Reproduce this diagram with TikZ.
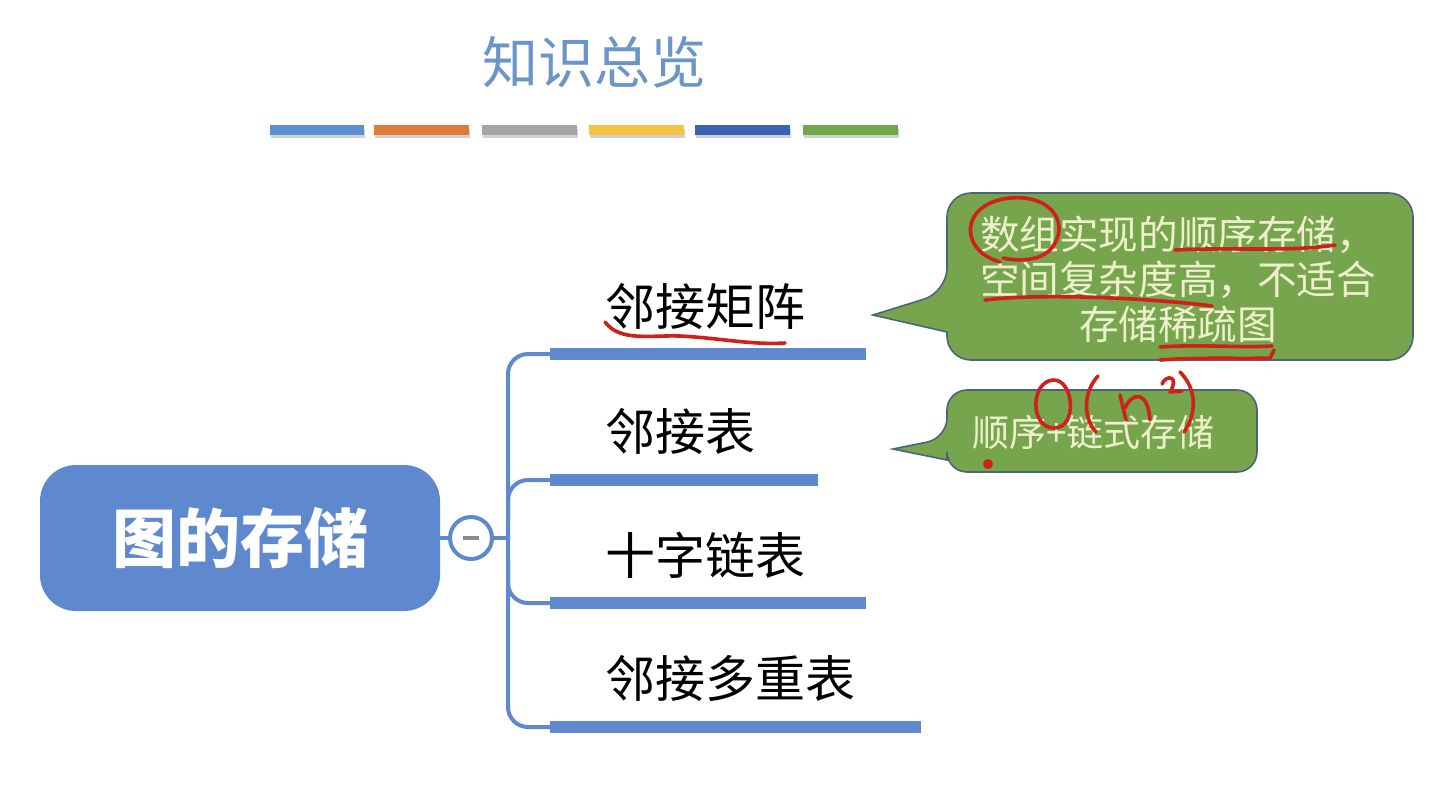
\documentclass[tikz,border=0pt]{standalone}
\usepackage{fontspec}
\setmainfont{Noto Sans CJK SC}
\usetikzlibrary{calc}
\definecolor{mblue}{HTML}{5F89CF}
\definecolor{ttl}{HTML}{6A95C9}
\definecolor{cgreen}{HTML}{76A54E}
\definecolor{cedge}{HTML}{4D6478}
\definecolor{ctext}{HTML}{EEF0CC}
\definecolor{pen}{HTML}{D0201A}
\definecolor{b1}{HTML}{5B8FD0}
\definecolor{b2}{HTML}{E07B39}
\definecolor{b3}{HTML}{A5A5A5}
\definecolor{b4}{HTML}{F5C242}
\definecolor{b5}{HTML}{3C62B4}
\definecolor{b6}{HTML}{6FA84A}
\tikzset{
  colbar/.style={fill=#1, draw=none},
  colshadow/.style={fill=black!18, draw=none},
  branchbar/.style={fill=mblue, draw=none, inner sep=0pt, minimum height=6pt, anchor=west},
  label/.style={anchor=west, inner sep=0pt, font=\fontsize{25pt}{27pt}\selectfont, text=black},
  tree/.style={draw=mblue, line width=2pt, rounded corners=10pt},
  callout/.style={fill=cgreen, draw=cedge, line width=0.8pt},
  ctxt/.style={text=ctext, align=center, inner sep=0pt},
  penline/.style={draw=pen, line width=1.8pt, line cap=round, line join=round},
}
\begin{document}
\begin{tikzpicture}[x=0.5pt, y=-0.5pt]
\useasboundingbox (0,0) rectangle (1444,800);
\fill[white] (0,0) rectangle (1444,800);

% title
\node[text=ttl, font=\fontsize{28pt}{30pt}\selectfont, inner sep=0pt] (title) at (594,62) {知识总览};

% colour bars
\foreach \xa/\xb/\c in {270/364/b1, 374/469/b2, 482/577/b3, 589/684/b4, 695/790/b5, 803/898/b6}{
  \fill[colshadow] (\xa+1,129) rectangle (\xb+1,138);
  \fill[colbar=\c] (\xa,125) rectangle (\xb,135);
}

% root
\node[fill=mblue, rounded corners=18pt, minimum width=200pt, minimum height=73pt, text=white,
      font=\fontsize{32pt}{34pt}\selectfont\bfseries, inner sep=0pt] (root) at (240,538) {图的存储};

% toggle circle
\node[circle, draw=mblue, line width=2pt, fill=white, minimum size=21pt, inner sep=0pt] (tog) at (471,538) {};
\draw[black!45, line width=1.6pt] ($(tog.center)+(-8,0)$) -- ($(tog.center)+(8,0)$);
\draw[mblue, line width=2pt] (root.east) -- (tog.west);

% branch bars
\node[branchbar, minimum width=158pt] (bar1) at (550,354) {};
\node[branchbar, minimum width=134pt] (bar2) at (550,480) {};
\node[branchbar, minimum width=158pt] (bar3) at (550,603) {};
\node[branchbar, minimum width=185.5pt] (bar4) at (550,727) {};

\coordinate (trunk) at (508,538);
\draw[mblue, line width=2pt] (tog.east) -- (trunk);
\draw[tree] (bar1.west) -- (508,354) -- (508,727) -- (bar4.west);
\draw[tree] (508,520) -- (508,480) -- (bar2.west);
\draw[tree] (508,560) -- (508,603) -- (bar3.west);

% labels
\node[label] (l1) at (605,307) {邻接矩阵};
\node[label] (l2) at (605,432) {邻接表};
\node[label] (l3) at (605,555) {十字链表};
\node[label] (l4) at (605,678) {邻接多重表};

% callout 1
\path[callout] (873,315) -- (947,332) [rounded corners=12pt] -- (947,360) -- (1413,360) -- (1413,193) -- (947,193) -- (947,292) [sharp corners] -- cycle;
\node[ctxt, font=\fontsize{19.8pt}{22.5pt}\selectfont] (c1) at (1178,279) {数组实现的顺序存储，\\空间复杂度高，不适合\\存储稀疏图};

% callout 2
\path[callout] (893,449) -- (947,460) [rounded corners=10pt] -- (947,472) -- (1257,472) -- (1257,390) -- (947,390) -- (947,438) [sharp corners] -- cycle;
\node[ctxt, anchor=west, font=\fontsize{18.5pt}{20pt}\selectfont] (c2) at (972,432) {顺序+链式存储};

% red pen annotations
\draw[penline] (1000,262) .. controls (958,250) and (960,203) .. (1010,198)
   .. controls (1052,194) and (1072,225) .. (1050,250) .. controls (1040,260) and (1020,262) .. (1003,258);
\draw[penline] (1175,250) .. controls (1230,247) and (1290,252) .. (1335,245);
\draw[penline] (985,300) .. controls (1040,293) and (1150,298) .. (1212,306);
\draw[penline] (1160,347) .. controls (1200,344) and (1240,348) .. (1272,346);
\draw[penline] (1160,360) .. controls (1200,357) and (1240,359) .. (1270,358) -- (1274,350);
\draw[penline] (605,322) .. controls (620,342) and (650,335) .. (680,336) .. controls (720,338) and (750,345) .. (785,343);
% O(n^2)
\draw[penline] (1053,380) .. controls (1030,382) and (1030,428) .. (1054,428) .. controls (1078,428) and (1074,379) .. (1053,380);
\draw[penline] (1098,376) .. controls (1083,392) and (1083,418) .. (1096,432);
\draw[penline] (1120,395) -- (1126,420) (1125,408) .. controls (1132,392) and (1148,390) .. (1150,420);
\draw[penline] (1162,384) .. controls (1166,374) and (1180,376) .. (1170,392) -- (1182,391);
\draw[penline] (1180,372) .. controls (1198,390) and (1196,415) .. (1184,432);
\fill[pen] (988,464) circle (2.5pt);
\end{tikzpicture}
\end{document}
